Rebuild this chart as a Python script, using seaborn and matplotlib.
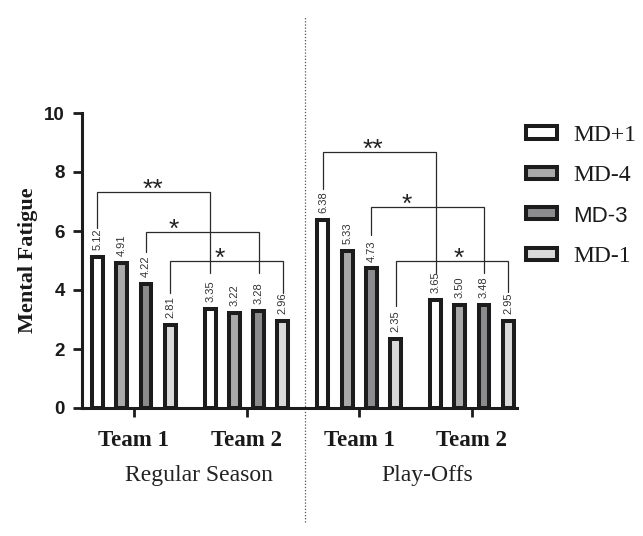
import matplotlib
matplotlib.use("Agg")
import matplotlib.pyplot as plt
import seaborn as sns
import pandas as pd
from matplotlib.patches import Patch

# ---- data ----
groups = ["RS Team 1", "RS Team 2", "PO Team 1", "PO Team 2"]
team_labels = ["Team 1", "Team 2", "Team 1", "Team 2"]
phases = ["Regular Season", "Play-Offs"]
days = ["MD+1", "MD-4", "MD-3", "MD-1"]
md_plus1 = [5.12, 3.35, 6.38, 3.65]
md_minus4 = [4.91, 3.22, 5.33, 3.50]
md_minus3 = [4.22, 3.28, 4.73, 3.48]
md_minus1 = [2.81, 2.96, 2.35, 2.95]

# significance brackets: (day index, left group, right group, bar height,
# left leg end, right leg end, stars, star position along bracket)
brackets = [
    (0, 0, 1, 7.32, 6.10, 4.58, "**", 0.49),
    (2, 0, 1, 5.97, 5.29, 4.58, "*", 0.25),
    (3, 0, 1, 4.98, 3.91, 3.91, "*", 0.44),
    (0, 2, 3, 8.68, 7.42, 4.58, "**", 0.44),
    (2, 2, 3, 6.81, 5.86, 4.58, "*", 0.31),
    (3, 2, 3, 4.98, 3.46, 3.93, "*", 0.56),
]

df = pd.DataFrame({
    "group": groups * 4,
    "day": [d for d in days for _ in groups],
    "value": md_plus1 + md_minus4 + md_minus3 + md_minus1,
})

fills = ["#ffffff", "#a9a9a9", "#8c8c8e", "#d9d9d9"]
edge = "#1c1c1c"
serif = "Liberation Serif"
sans = "Liberation Sans"

sns.set_style("ticks")
plt.rcParams["font.family"] = [sans, "DejaVu Sans"]

fig = plt.figure(figsize=(6.43, 5.36), dpi=100)
ax = fig.add_axes([82 / 643, 128 / 536, 435 / 643, 295 / 536])

sns.barplot(data=df, x="group", y="value", hue="day", order=groups,
            hue_order=days, palette=fills, edgecolor=edge, linewidth=2.9,
            width=0.86, gap=0.55, legend=False, ax=ax)
for p in ax.patches:
    p.set_joinstyle("miter")

# value labels above each bar
for cont in ax.containers:
    ax.bar_label(cont, fmt="%.2f", rotation=90, padding=5, fontsize=8,
                 color="#333333", family=sans)

# significance brackets
for h, g1, g2, top, y1, y2, stars, frac in brackets:
    b1 = ax.containers[h][g1]
    b2 = ax.containers[h][g2]
    x1 = b1.get_x() + b1.get_width() / 2
    x2 = b2.get_x() + b2.get_width() / 2
    ax.plot([x1, x1, x2, x2], [y1, top, top, y2], color="#2a2a2a", lw=0.9,
            solid_joinstyle="miter")
    ax.annotate(stars, (x1 + frac * (x2 - x1), top), xytext=(0, 1.5),
                textcoords="offset points", ha="center", va="center",
                fontsize=19, family=sans, color="#222222")

ax.set_xlim(-0.46, 3.40)
ax.set_ylim(0, 10)
ax.set_yticks([0, 2, 4, 6, 8, 10])
ax.set_xticks(range(4))
ax.set_xticklabels(team_labels, family=serif, fontweight="bold", fontsize=16.5,
                   color="#1a1a1a")
for lab in ax.get_yticklabels():
    lab.set_fontweight("bold")
    lab.set_fontsize(13.5)
    lab.set_color("#1a1a1a")
ax.set_xlabel("")
ax.set_ylabel("Mental Fatigue", family=serif, fontweight="bold", fontsize=16,
              color="#1a1a1a", labelpad=4)

sns.despine(ax=ax)
for s in ("left", "bottom"):
    ax.spines[s].set_linewidth(2.2)
    ax.spines[s].set_color(edge)
ax.tick_params(axis="both", length=6.5, width=2, color=edge)
ax.tick_params(axis="y", pad=6)
ax.tick_params(axis="x", pad=9)

# phase labels beneath the team labels
for xpos, txt in zip([0.58, 2.6], phases):
    ax.text(xpos, -0.23, txt, transform=ax.get_xaxis_transform(),
            ha="center", va="center", family=serif, fontsize=17, color="#222222")

# dotted divider between the two phases
ax.axvline(1.52, ymin=-0.385, ymax=1.33, clip_on=False, color="#555555",
           lw=0.9, ls=(0, (1, 1.5)))

# legend
handles = [Patch(facecolor=c, edgecolor=edge, linewidth=2.9) for c in fills]
leg = fig.legend(handles, days, loc="upper left",
                 bbox_to_anchor=(526 / 643, 1 - 125 / 536), frameon=False,
                 prop={"family": serif, "size": 17}, handlelength=1.3,
                 handleheight=0.42, handletextpad=0.7, labelspacing=0.82,
                 borderpad=0, borderaxespad=0)
leg.get_texts()[2].set_fontfamily(sans)
leg.get_texts()[2].set_fontsize(16)
for t in leg.get_texts():
    t.set_color("#1a1a1a")

fig.savefig("out.png", dpi=100)
